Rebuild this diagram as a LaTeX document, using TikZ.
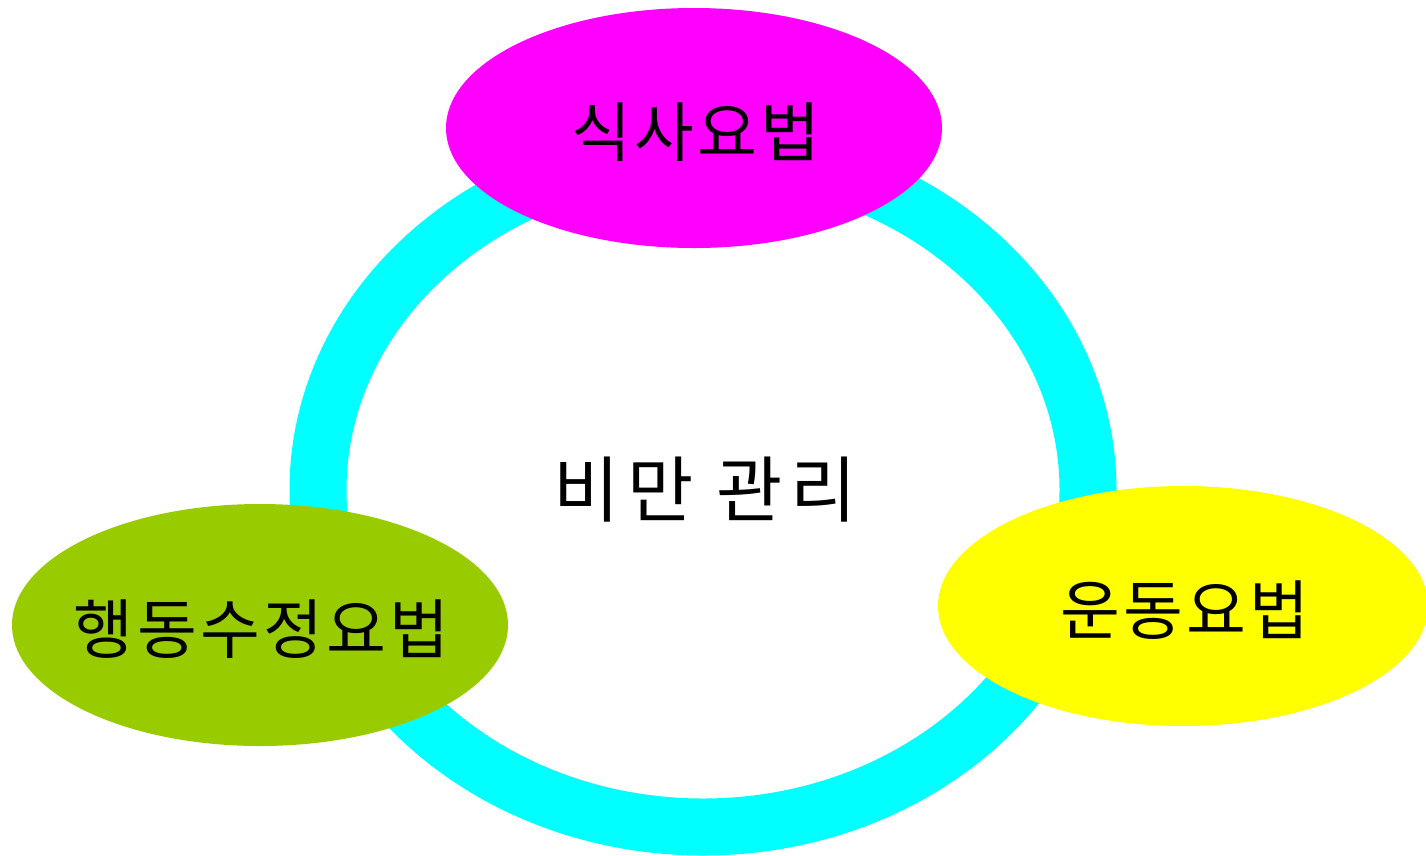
\documentclass[tikz,border=0pt]{standalone}
\usepackage{fontspec}
\setmainfont{Noto Sans CJK KR}
\newfontfamily\labelfont[LetterSpace=5]{Noto Sans CJK KR}
\newfontfamily\corefont[LetterSpace=10]{Noto Sans CJK KR}
\usetikzlibrary{shapes.geometric}
\definecolor{ringcyan}{HTML}{00FFFF}
\definecolor{dietmag}{HTML}{FF00FF}
\definecolor{behgreen}{HTML}{99CC00}
\definecolor{exyellow}{HTML}{FFFF00}
\newcommand{\bloblabel}[1]{\raisebox{-28pt}[0pt][0pt]{\makebox[0pt]{\hspace*{3pt}#1}}}
\tikzset{
  ringshape/.style={ellipse, draw=ringcyan, line width=57pt, minimum width=770pt, minimum height=674pt, inner sep=0pt, font=\corefont\fontsize{72}{80}\selectfont},
  blob/.style={ellipse, draw=none, inner sep=0pt, minimum width=496pt, minimum height=240pt, font=\labelfont\fontsize{65}{70}\selectfont}
}
\begin{document}
\begin{tikzpicture}[x=1pt,y=-1pt]
\clip (0,0) rectangle (1426,855);
\fill[white] (0,0) rectangle (1426,855);
\node[ringshape] (core) at (703,490) {\hspace*{4pt}비만 관리};
\node[blob, fill=dietmag] (diet) at (694,128) {\bloblabel{식사요법}};
\node[blob, fill=behgreen, minimum height=242pt] (behav) at (260,625) {\bloblabel{행동수정요법}};
\node[blob, fill=exyellow, minimum width=490pt] (exer) at (1183,606) {\bloblabel{운동요법}};
\end{tikzpicture}
\end{document}
